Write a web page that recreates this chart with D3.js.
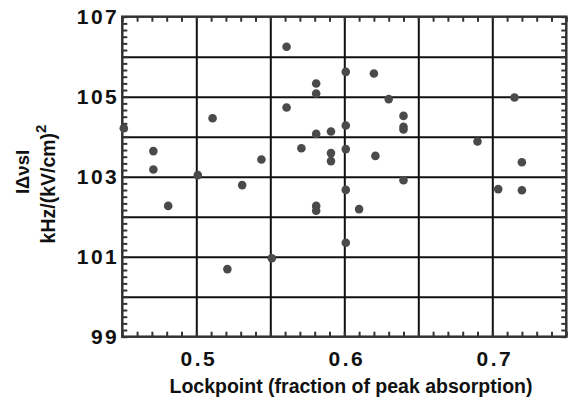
<!DOCTYPE html>
<html>
<head>
<meta charset="utf-8">
<script src="https://cdn.jsdelivr.net/npm/d3@7"></script>
<style>
    body { margin: 0; background: #fff; }
    svg { display: block; }
    text { font-family: "Liberation Sans", Arial, sans-serif; font-weight: bold; fill: #111; }
</style>
</head>
<body>
<svg width="574" height="405"></svg>
<script>
    // lockpoint (fraction of peak absorption) and |Δν_s|
    const lockpoint = [0.451, 0.471, 0.471, 0.501, 0.481, 0.511, 0.521, 0.531, 0.544, 0.551,
        0.561, 0.561, 0.571, 0.581, 0.581, 0.581, 0.581, 0.581, 0.591, 0.591,
        0.591, 0.601, 0.601, 0.601, 0.601, 0.601, 0.610, 0.620, 0.621, 0.630,
        0.640, 0.640, 0.640, 0.640, 0.690, 0.704, 0.715, 0.720, 0.720];
    const shift = [104.21, 103.64, 103.18, 103.04, 102.27, 104.46, 100.69, 102.79, 103.43, 100.96,
        106.25, 104.73, 103.71, 105.33, 105.08, 104.07, 102.27, 102.15, 104.13, 103.59,
        103.39, 105.62, 104.28, 103.69, 102.67, 101.35, 102.19, 105.58, 103.52, 104.94,
        104.52, 104.25, 104.18, 102.91, 103.88, 102.69, 104.98, 103.36, 102.66];

    const xTickLabels = [0.5, 0.6, 0.7];
    const xGridLines = [0.5, 0.55, 0.6, 0.65, 0.7];
    const yTickLabels = [99, 101, 103, 105, 107];
    const yGridLines = [100, 101, 102, 103, 104, 105, 106];

    const svg = d3.select("svg");
    const pLeft = 122.3, pRight = 566.3, pTop = 16.7, pBottom = 336.7;

    const x = d3.scaleLinear().domain([0.45, 0.75]).range([pLeft, pRight]);
    const y = d3.scaleLinear().domain([99, 107]).range([pBottom, pTop]);

    const xMinor = d3.range(0.45, 0.7501, 0.01);
    const yMinor = d3.range(0, 49).map(i => 99 + i / 6);

    // grid
    svg.append("g")
        .attr("transform", `translate(0,${pBottom})`)
        .call(d3.axisBottom(x).tickValues(xGridLines).tickSize(-(pBottom - pTop)).tickFormat(""))
        .call(g => g.select(".domain").remove())
        .call(g => g.selectAll("line").attr("stroke", "#111").attr("stroke-width", 2));
    svg.append("g")
        .attr("transform", `translate(${pLeft},0)`)
        .call(d3.axisLeft(y).tickValues(yGridLines).tickSize(-(pRight - pLeft)).tickFormat(""))
        .call(g => g.select(".domain").remove())
        .call(g => g.selectAll("line").attr("stroke", "#111").attr("stroke-width", 2));

    // inward minor ticks on all four sides
    const minor = (g) => g.call(s => s.select(".domain").remove())
        .selectAll("line").attr("stroke", "#333").attr("stroke-width", 2);
    svg.append("g").attr("transform", `translate(0,${pBottom})`)
        .call(d3.axisBottom(x).tickValues(xMinor).tickSize(-5).tickFormat("")).call(minor);
    svg.append("g").attr("transform", `translate(0,${pTop})`)
        .call(d3.axisTop(x).tickValues(xMinor).tickSize(-5).tickFormat("")).call(minor);
    svg.append("g").attr("transform", `translate(${pLeft},0)`)
        .call(d3.axisLeft(y).tickValues(yMinor).tickSize(-5).tickFormat("")).call(minor);
    svg.append("g").attr("transform", `translate(${pRight},0)`)
        .call(d3.axisRight(y).tickValues(yMinor).tickSize(-5).tickFormat("")).call(minor);

    // frame
    svg.append("rect")
        .attr("x", pLeft).attr("y", pTop)
        .attr("width", pRight - pLeft).attr("height", pBottom - pTop)
        .attr("fill", "none").attr("stroke", "#333").attr("stroke-width", 2.5);

    // tick labels
    svg.append("g").attr("transform", `translate(0,${pBottom})`)
        .call(d3.axisBottom(x).tickValues(xTickLabels).tickSize(0).tickPadding(14).tickFormat(d3.format(".1f")))
        .call(g => g.select(".domain").remove())
        .call(g => g.selectAll("text").attr("font-size", 21).attr("letter-spacing", 2.5)
            .attr("font-family", "Liberation Sans, Arial, sans-serif").attr("fill", "#111").attr("dx", 2));
    svg.append("g").attr("transform", `translate(${pLeft},0)`)
        .call(d3.axisLeft(y).tickValues(yTickLabels).tickSize(0).tickPadding(3).tickFormat(d3.format("d")))
        .call(g => g.select(".domain").remove())
        .call(g => g.selectAll("text").attr("font-size", 21).attr("letter-spacing", 2.5)
            .attr("font-family", "Liberation Sans, Arial, sans-serif").attr("fill", "#111"));

    // points
    svg.append("g").selectAll("circle")
        .data(lockpoint.map((v, i) => ({ x: v, y: shift[i] })))
        .enter()
        .append("circle")
        .attr("cx", d => x(d.x))
        .attr("cy", d => y(d.y))
        .attr("r", 4.3)
        .attr("fill", "#4a4a4a");

    // axis titles
    svg.append("text")
        .attr("x", 351).attr("y", 393)
        .attr("text-anchor", "middle")
        .attr("font-size", 19.5)
        .text("Lockpoint (fraction of peak absorption)");

    const yTitle = svg.append("g").attr("transform", "rotate(-90)");
    yTitle.append("text")
        .attr("x", -172).attr("y", 29)
        .attr("text-anchor", "middle")
        .attr("font-size", 18.5)
        .text("IΔνsI");
    const t2 = yTitle.append("text")
        .attr("x", -184).attr("y", 55)
        .attr("text-anchor", "middle")
        .attr("font-size", 19.5);
    t2.append("tspan").text("kHz/(kV/cm)");
    t2.append("tspan").attr("dy", -9).attr("font-size", 15).text("2");
</script>
</body>
</html>
